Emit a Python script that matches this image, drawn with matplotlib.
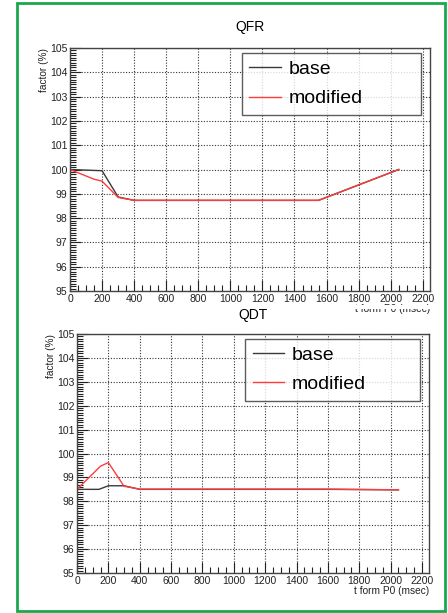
import matplotlib
matplotlib.use("Agg")
import matplotlib.pyplot as plt
from matplotlib.patches import Rectangle
from matplotlib.ticker import MultipleLocator

plt.rcParams['font.family'] = ['Liberation Sans', 'DejaVu Sans']

# QFR data
qfr_base_t = [0, 200, 300, 400, 1550, 2050]
qfr_base_v = [100.0, 99.95, 98.87, 98.73, 98.73, 100.0]
qfr_mod_t = [0, 150, 200, 300, 400, 1550, 2050]
qfr_mod_v = [100.0, 99.6, 99.52, 98.85, 98.73, 98.73, 100.0]

# QDT data
qdt_base_t = [0, 140, 200, 300, 400, 1600, 2050]
qdt_base_v = [98.5, 98.5, 98.65, 98.65, 98.5, 98.5, 98.48]
qdt_mod_t = [0, 150, 200, 300, 400, 1600, 2050]
qdt_mod_v = [98.5, 99.47, 99.62, 98.63, 98.51, 98.51, 98.48]

series_labels = ["base", "modified"]
titles = ["QFR", "QDT"]
x_label = "t form P0 (msec)"
y_label = "factor (%)"

W, H = 448, 613
fig = plt.figure(figsize=(W / 100, H / 100), dpi=100)
fig.patch.set_facecolor('white')


def frac_rect(l, t, r, b):
    return [l / W, 1 - b / H, (r - l) / W, (b - t) / H]


panels = [
    (frac_rect(70, 48, 430, 291), qfr_base_t, qfr_base_v, qfr_mod_t, qfr_mod_v, titles[0], (250, 27)),
    (frac_rect(77, 334, 429, 573), qdt_base_t, qdt_base_v, qdt_mod_t, qdt_mod_v, titles[1], (253, 315)),
]

for rect, bt, bv, mt, mv, title, tpos in panels:
    ax = fig.add_axes(rect)
    ax.plot(bt, bv, color='#3a3a3a', lw=1.0, label=series_labels[0])
    ax.plot(mt, mv, color='#ff3b3b', lw=1.0, label=series_labels[1])
    ax.set_xlim(0, 2245)
    ax.set_ylim(95, 105)
    ax.xaxis.set_major_locator(MultipleLocator(200))
    ax.xaxis.set_minor_locator(MultipleLocator(50))
    ax.yaxis.set_major_locator(MultipleLocator(1))
    ax.yaxis.set_minor_locator(MultipleLocator(0.1))
    ax.tick_params(which='both', direction='in', top=False, right=False,
                   labelsize=7.5, pad=2, colors='#222222')
    ax.tick_params(which='major', length=8, width=0.8)
    ax.tick_params(which='minor', length=4, width=0.8)
    ax.grid(True, which='major', color='#333333', linestyle=(0, (1, 1.5)), lw=0.8)
    for s in ax.spines.values():
        s.set_color('#444444')
        s.set_linewidth(1.0)
    ax.set_xlabel(x_label, loc='right', fontsize=7.3, labelpad=0, color='#222222')
    ax.set_ylabel(y_label, loc='top', fontsize=7.3, labelpad=0.5, color='#222222')
    leg = ax.legend(loc='upper left', bbox_to_anchor=(0.478, 0.728, 0.497, 0.251),
                    mode='expand', fontsize=14, frameon=True, fancybox=False,
                    handlelength=1.6, handletextpad=0.4, labelspacing=0.6,
                    borderpad=0.38, borderaxespad=0.0)
    leg.get_frame().set_edgecolor('#333333')
    leg.get_frame().set_linewidth(1.0)
    fig.text(tpos[0] / W, 1 - tpos[1] / H, title, ha='center', va='center', fontsize=10)

# white band hiding the lower part of the upper x label
fig.patches.append(Rectangle((20 / W, 1 - 309 / H), 420 / W, 4.5 / H, transform=fig.transFigure,
                             facecolor='white', edgecolor='none', zorder=5))
# green frame
fig.patches.append(Rectangle((17 / W, 1 - 611 / H), 428 / W, 608 / H, transform=fig.transFigure,
                             facecolor='none', edgecolor='#1aa84f', lw=2, zorder=6))

fig.savefig('out.png', dpi=100)
